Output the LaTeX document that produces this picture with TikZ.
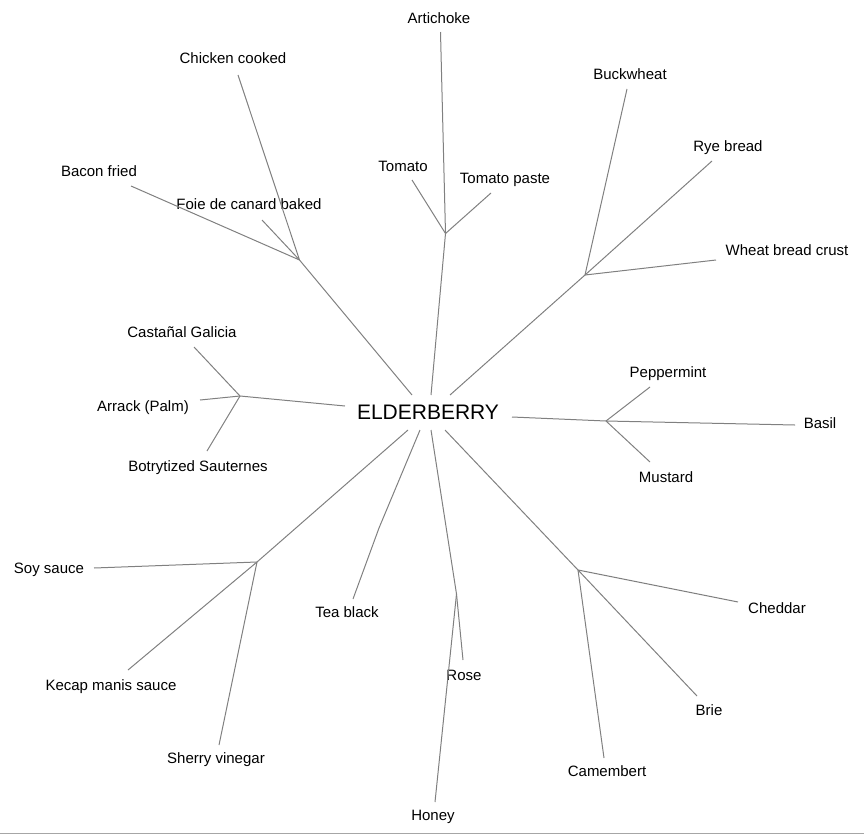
\documentclass[tikz,border=0pt]{standalone}
\usepackage{fontspec}
\setmainfont{Liberation Sans}
\begin{document}
\begin{tikzpicture}[x=1pt,y=-1pt,
  lbl/.style={inner sep=0pt, text height=10.7pt, text depth=0pt, font=\fontsize{15}{15}\selectfont, anchor=center},
  root/.style={inner sep=0pt, text height=15pt, text depth=0pt, font=\fontsize{21}{21}\selectfont, anchor=center},
  edge/.style={draw=black!50, line width=1pt}]
\useasboundingbox (0,0) rectangle (864,835);
\draw[draw=black!35, line width=1pt] (0,833.5) coordinate (bl) -- (864,833.5) coordinate (br);

% labels
\node[root] (elder) at (428,412) {ELDERBERRY};
\node[lbl] (artichoke) at (439,18) {Artichoke};
\node[lbl] (chicken) at (233,58) {Chicken cooked};
\node[lbl] (buckwheat) at (630,74) {Buckwheat};
\node[lbl] (rye) at (728,146) {Rye bread};
\node[lbl] (tomato) at (403,166) {Tomato};
\node[lbl] (bacon) at (99,171) {Bacon fried};
\node[lbl] (paste) at (505,178) {Tomato paste};
\node[lbl] (foie) at (249,204.5) {Foie de canard baked};
\node[lbl] (wheat) at (787,250) {Wheat bread crust};
\node[lbl] (castanal) at (182,332) {Castañal Galicia};
\node[lbl] (peppermint) at (668,372) {Peppermint};
\node[lbl] (arrack) at (143,406) {Arrack (Palm)};
\node[lbl] (basil) at (820,423) {Basil};
\node[lbl] (botry) at (198,466) {Botrytized Sauternes};
\node[lbl] (mustard) at (666,477) {Mustard};
\node[lbl] (soy) at (49,568) {Soy sauce};
\node[lbl] (cheddar) at (777,608) {Cheddar};
\node[lbl] (tea) at (347,612) {Tea black};
\node[lbl] (rose) at (464,675) {Rose};
\node[lbl] (kecap) at (111,685) {Kecap manis sauce};
\node[lbl] (brie) at (709,710) {Brie};
\node[lbl] (sherry) at (216,758) {Sherry vinegar};
\node[lbl] (camembert) at (607,771) {Camembert};
\node[lbl] (honey) at (433,815) {Honey};

% junctions
\coordinate (jtom) at (445.5,233.5);
\coordinate (jfoie) at (299.5,260);
\coordinate (jbuck) at (585,275);
\coordinate (jleft) at (240,396);
\coordinate (jright) at (606,421);
\coordinate (jsoy) at (257,562);
\coordinate (jtea) at (379,528);
\coordinate (jrose) at (456.5,594);
\coordinate (jcheese) at (578,570);

% line ends at the centre
\coordinate (c-tom) at (431,395);
\coordinate (c-foie) at (412,395);
\coordinate (c-buck) at (450,395);
\coordinate (c-left) at (345,406);
\coordinate (c-right) at (512,417);
\coordinate (c-soy) at (408,430);
\coordinate (c-tea) at (420,430);
\coordinate (c-rose) at (431,430);
\coordinate (c-cheese) at (445,430);

% line ends at the leaves
\coordinate (e-artichoke) at (440.5,32);
\coordinate (e-tomato) at (412,180);
\coordinate (e-paste) at (491,193);
\coordinate (e-chicken) at (238,75);
\coordinate (e-bacon) at (131,186);
\coordinate (e-foie) at (262,220);
\coordinate (e-buckwheat) at (627,89);
\coordinate (e-rye) at (712,161);
\coordinate (e-wheat) at (716,260);
\coordinate (e-castanal) at (194,347);
\coordinate (e-arrack) at (200,400);
\coordinate (e-botry) at (207,451);
\coordinate (e-peppermint) at (650,387);
\coordinate (e-basil) at (795,425);
\coordinate (e-mustard) at (650,462);
\coordinate (e-soy) at (94,568);
\coordinate (e-kecap) at (128,670);
\coordinate (e-sherry) at (219,745);
\coordinate (e-tea) at (353,599);
\coordinate (e-rose) at (463,660);
\coordinate (e-honey) at (435,802);
\coordinate (e-cheddar) at (738,602);
\coordinate (e-brie) at (697,696);
\coordinate (e-camembert) at (604,758);

% connectors
\draw[edge] (c-tom) -- (jtom);
\draw[edge] (jtom) -- (e-artichoke);
\draw[edge] (jtom) -- (e-tomato);
\draw[edge] (jtom) -- (e-paste);

\draw[edge] (c-foie) -- (jfoie);
\draw[edge] (jfoie) -- (e-chicken);
\draw[edge] (jfoie) -- (e-bacon);
\draw[edge] (jfoie) -- (e-foie);

\draw[edge] (c-buck) -- (jbuck);
\draw[edge] (jbuck) -- (e-buckwheat);
\draw[edge] (jbuck) -- (e-rye);
\draw[edge] (jbuck) -- (e-wheat);

\draw[edge] (c-left) -- (jleft);
\draw[edge] (jleft) -- (e-castanal);
\draw[edge] (jleft) -- (e-arrack);
\draw[edge] (jleft) -- (e-botry);

\draw[edge] (c-right) -- (jright);
\draw[edge] (jright) -- (e-peppermint);
\draw[edge] (jright) -- (e-basil);
\draw[edge] (jright) -- (e-mustard);

\draw[edge] (c-soy) -- (jsoy);
\draw[edge] (jsoy) -- (e-soy);
\draw[edge] (jsoy) -- (e-kecap);
\draw[edge] (jsoy) -- (e-sherry);

\draw[edge] (c-tea) -- (jtea);
\draw[edge] (jtea) -- (e-tea);

\draw[edge] (c-rose) -- (jrose);
\draw[edge] (jrose) -- (e-rose);
\draw[edge] (jrose) -- (e-honey);

\draw[edge] (c-cheese) -- (jcheese);
\draw[edge] (jcheese) -- (e-cheddar);
\draw[edge] (jcheese) -- (e-brie);
\draw[edge] (jcheese) -- (e-camembert);
\end{tikzpicture}
\end{document}
